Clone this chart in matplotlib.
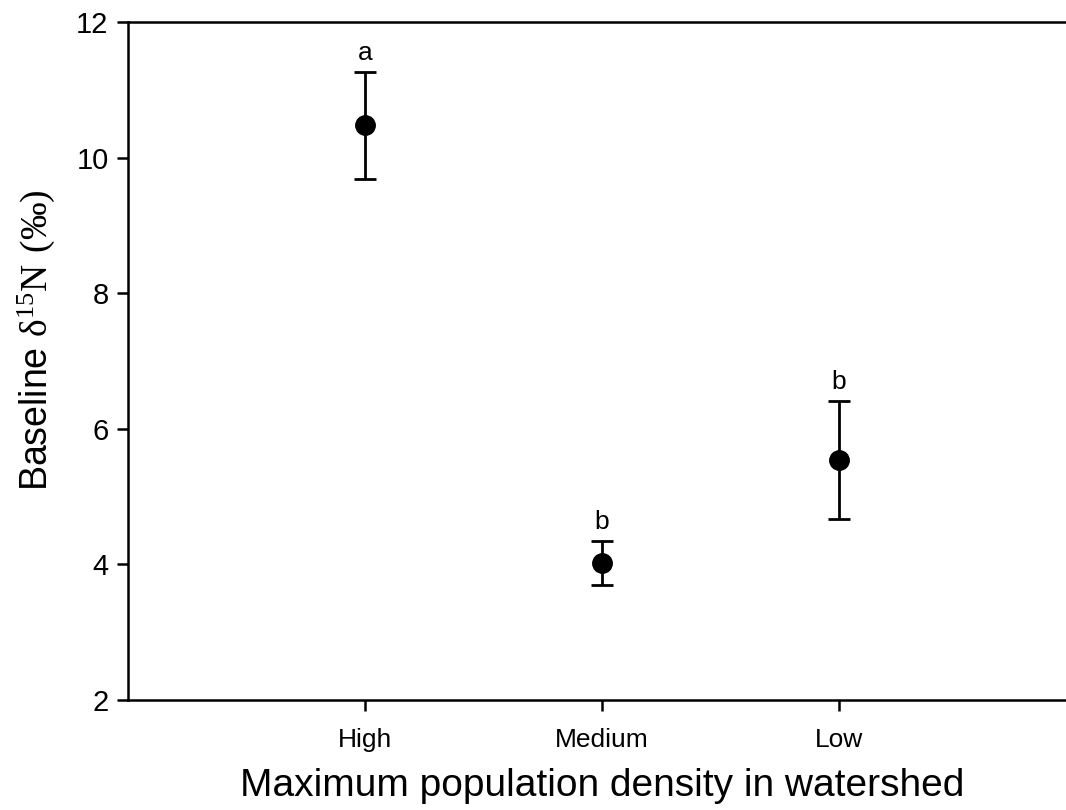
import matplotlib
matplotlib.use("Agg")
import matplotlib.pyplot as plt

plt.rcParams['font.family'] = ['Liberation Sans', 'DejaVu Sans']
plt.rcParams['mathtext.fontset'] = 'custom'
plt.rcParams['mathtext.rm'] = 'Liberation Serif'

# Group means, standard errors and post-hoc letters
groups = ['High', 'Medium', 'Low']
means = [10.48, 4.02, 5.54]
errors = [0.79, 0.33, 0.87]
letters = ['a', 'b', 'b']

fig = plt.figure(figsize=(10.66, 8.10), dpi=100)
ax = fig.add_axes([0.1201, 0.1358, 0.8893, 0.8370])

xpos = range(1, len(groups) + 1)
ax.errorbar(xpos, means, yerr=errors, fmt='o', color='black', ms=14,
            elinewidth=2, capsize=8, capthick=2)

# significance letters above the upper error bar
for x, m, e, lab in zip(xpos, means, errors, letters):
    ax.annotate(lab, (x, m + e), xytext=(0, 5), textcoords='offset points',
                ha='center', va='bottom', fontsize=19)

ax.set_xlim(0, 4)
ax.set_ylim(2, 12)
ax.set_xticks(list(xpos))
ax.set_xticklabels(groups, fontsize=19)
ax.set_yticks(range(2, 13, 2))
ax.tick_params(axis='y', labelsize=21, direction='out', length=8, width=1.8, pad=6)
ax.tick_params(axis='x', direction='out', length=8, width=1.8, pad=12)

ax.spines['right'].set_visible(False)
for s in ['left', 'top', 'bottom']:
    ax.spines[s].set_linewidth(1.8)

ax.set_xlabel('Maximum population density in watershed', fontsize=28, labelpad=12)
ax.set_ylabel(r'Baseline $\mathrm{\delta^{15}N\ (‰)}$', fontsize=27)
ax.yaxis.set_label_coords(-0.075, 0.53)

fig.savefig('out.png', dpi=100)
